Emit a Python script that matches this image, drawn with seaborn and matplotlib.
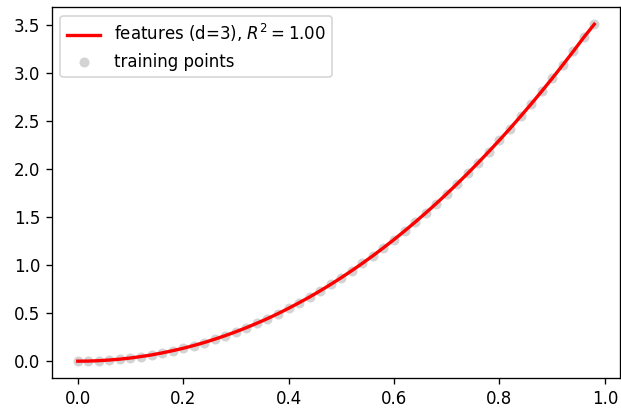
import matplotlib
matplotlib.use("Agg")
import matplotlib.pyplot as plt
import seaborn as sns
import pandas as pd

train_x = [0.00, 0.02, 0.04, 0.06, 0.08, 0.10, 0.12, 0.14, 0.16, 0.18,
           0.20, 0.22, 0.24, 0.26, 0.28, 0.30, 0.32, 0.34, 0.36, 0.38,
           0.40, 0.42, 0.44, 0.46, 0.48, 0.50, 0.52, 0.54, 0.56, 0.58,
           0.60, 0.62, 0.64, 0.66, 0.68, 0.70, 0.72, 0.74, 0.76, 0.78,
           0.80, 0.82, 0.84, 0.86, 0.88, 0.90, 0.92, 0.94, 0.96, 0.98]
train_y = [0.000, 0.001, 0.005, 0.012, 0.021, 0.033, 0.048, 0.065, 0.086, 0.109,
           0.134, 0.163, 0.194, 0.229, 0.266, 0.306, 0.349, 0.395, 0.443, 0.495,
           0.550, 0.608, 0.668, 0.732, 0.799, 0.869, 0.942, 1.018, 1.097, 1.180,
           1.265, 1.354, 1.446, 1.541, 1.639, 1.741, 1.846, 1.954, 2.066, 2.181,
           2.299, 2.420, 2.546, 2.674, 2.806, 2.941, 3.080, 3.222, 3.368, 3.505]
fit_y = [0.000, 0.001, 0.005, 0.012, 0.021, 0.033, 0.048, 0.065, 0.086, 0.109,
         0.134, 0.163, 0.194, 0.229, 0.266, 0.306, 0.349, 0.395, 0.443, 0.495,
         0.550, 0.608, 0.668, 0.732, 0.799, 0.869, 0.942, 1.018, 1.097, 1.180,
         1.265, 1.354, 1.446, 1.541, 1.639, 1.741, 1.846, 1.954, 2.066, 2.181,
         2.299, 2.420, 2.546, 2.674, 2.806, 2.941, 3.080, 3.222, 3.368, 3.505]
line_label = r"features (d=3), $R^2 = 1.00$"
points_label = "training points"

df = pd.DataFrame({"x": train_x, "y": train_y, "fit": fit_y})

DPI = 120
fig = plt.figure(figsize=(621 / DPI, 410 / DPI), dpi=DPI)
ax = fig.add_axes([0.0836, 0.078, 0.915, 0.904])

sns.lineplot(data=df, x="x", y="fit", color="red", linewidth=2, label=line_label,
             ax=ax, zorder=3)
sns.scatterplot(data=df, x="x", y="y", color="lightgray", s=36, linewidth=0,
                label=points_label, ax=ax, zorder=2)

ax.set_xlabel("")
ax.set_ylabel("")
ax.legend(loc="upper left")

fig.savefig("out.png", dpi=DPI)
